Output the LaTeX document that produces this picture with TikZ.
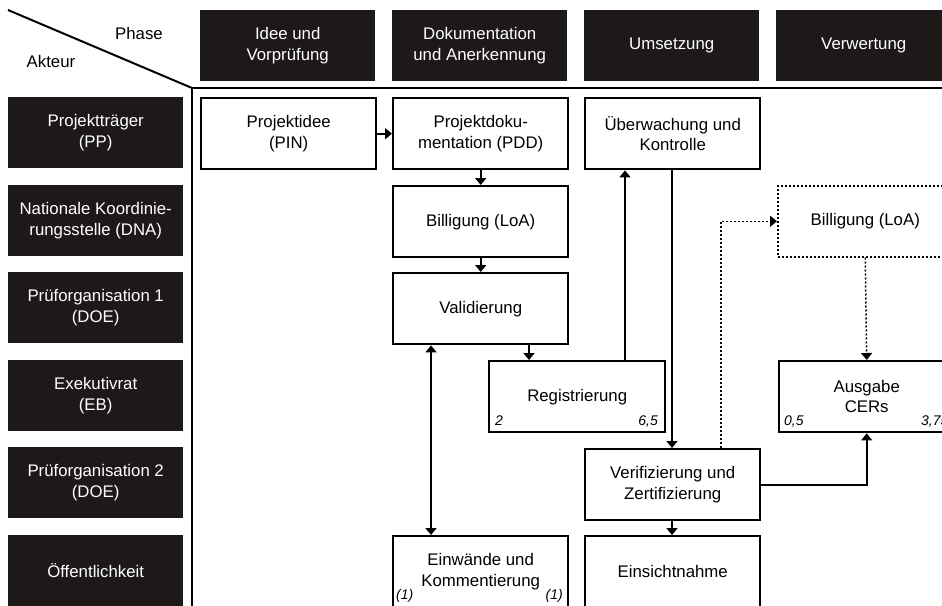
\documentclass[tikz,border=0pt]{standalone}
\usepackage{fontspec}
\setmainfont{Liberation Sans}
\usetikzlibrary{arrows.meta}
\definecolor{hdr}{RGB}{30,25,25}
\begin{document}
\begin{tikzpicture}[x=1pt,y=-1pt,
  basebox/.style={minimum width=175pt, minimum height=71pt, anchor=north west, align=center, inner sep=0pt, font=\fontsize{16.8}{20.5}\selectfont},
  hbox/.style={basebox, fill=hdr, text=white},
  cbox/.style={basebox, draw, line width=2.4pt, fill=white},
  dbox/.style={basebox, draw, line width=1.5pt, dash pattern=on 2pt off 2pt, fill=white},
  num/.style={font=\fontsize{14}{16}\selectfont\itshape, inner sep=0pt},
  arr/.style={line width=2.4pt, -{Triangle[width=11pt,length=7pt]}},
  darr/.style={line width=2.4pt, {Triangle[width=11pt,length=7pt]}-{Triangle[width=11pt,length=7pt]}},
  dotarr/.style={line width=1.5pt, dash pattern=on 2pt off 2pt, -{Triangle[width=11pt,length=7pt]}},
  frame/.style={line width=2.6pt},
  corner/.style={font=\fontsize{16.8}{20.5}\selectfont, inner sep=0pt}
]
\clip (0,0) rectangle (942,605);
\fill[white] (0,0) rectangle (942,605);

% corner header
\coordinate (dg1) at (8,10);
\coordinate (dg2) at (192,88);
\coordinate (hr) at (945,88);
\coordinate (vb) at (192,610);
\draw[line width=2pt] (dg1) -- (dg2);
\draw[frame] (hr) -- (dg2) -- (vb);
\node[corner] (phase) at (139,33) {Phase};
\node[corner] (akteur) at (51,61) {Akteur};

% phase headers
\node[hbox] (h1) at (200,10) {Idee und\\Vorprüfung};
\node[hbox] (h2) at (392,10) {Dokumentation\\und Anerkennung};
\node[hbox] (h3) at (584,10) {Umsetzung};
\node[hbox] (h4) at (776,10) {Verwertung};

% actor headers
\node[hbox] (a1) at (8,97) {Projektträger\\(PP)};
\node[hbox] (a2) at (8,185) {Nationale Koordinie-\\rungsstelle (DNA)};
\node[hbox] (a3) at (8,272) {Prüforganisation 1\\(DOE)};
\node[hbox] (a4) at (8,360) {Exekutivrat\\(EB)};
\node[hbox] (a5) at (8,447) {Prüforganisation 2\\(DOE)};
\node[hbox] (a6) at (8,535) {Öffentlichkeit};

% content boxes
\node[cbox] (pin) at (200,97) {Projektidee\\(PIN)};
\node[cbox] (pdd) at (392,97) {Projektdoku-\\mentation (PDD)};
\node[cbox] (bill) at (392,185) {Billigung (LoA)};
\node[cbox] (val) at (392,272) {Validierung};
\node[cbox, minimum width=176pt] (reg) at (488,360) {Registrierung};
\node[cbox] (ueb) at (584,97) {Überwachung und\\Kontrolle};
\node[cbox] (ver) at (584,448) {Verifizierung und\\Zertifizierung};
\node[cbox] (ein) at (392,535) {Einwände und\\Kommentierung};
\node[cbox] (eins) at (584,535) {Einsichtnahme};
\node[dbox] (bill2) at (777,185) {Billigung (LoA)};
\node[cbox] (aus) at (778,360) {Ausgabe\\CERs};

% numbers
\node[num, anchor=base west] (rn1) at (495,425) {2};
\node[num, anchor=base east] (rn2) at (658,425) {6,5};
\node[num, anchor=base west] (an1) at (784,425) {0,5};
\node[num, anchor=base west] (an2) at (921,425) {3,75};
\node[num, anchor=base west] (en1) at (396,599) {(1)};
\node[num, anchor=base east] (en2) at (563,599) {(1)};

% helper x positions
\coordinate (x529) at (529,0);
\coordinate (x431) at (431,0);
\coordinate (x625) at (625,0);
\coordinate (x672) at (672,0);
\coordinate (x721) at (721,0);

% connectors
\draw[arr] (pin.east) -- (pdd.west);
\draw[arr] (pdd.south) -- (bill.north);
\draw[arr] (bill.south) -- (val.north);
\draw[arr] (val.south -| x529) -- (reg.north -| x529);
\draw[darr] (val.south -| x431) -- (ein.north -| x431);
\draw[arr] (reg.north -| x625) -- (ueb.south -| x625);
\draw[arr] (ueb.south -| x672) -- (ver.north -| x672);
\draw[arr] (ver.south -| x672) -- (eins.north -| x672);
\draw[arr] (ver.east) -| (aus.south);
\draw[dotarr] (ver.north -| x721) |- (bill2.west);
\draw[dotarr] (bill2.south) -- (aus.north);
\end{tikzpicture}
\end{document}
